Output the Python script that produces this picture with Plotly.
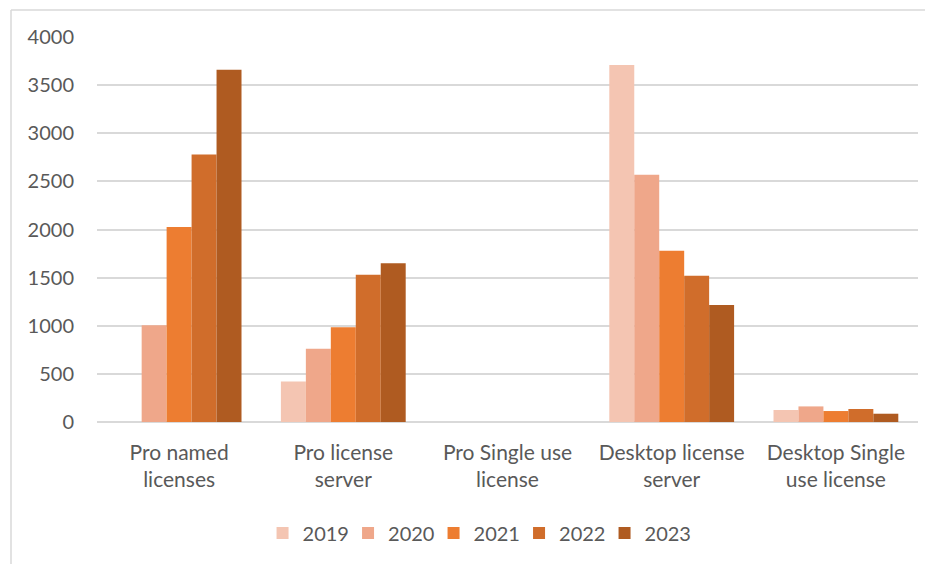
import plotly.graph_objects as go

categories = ["Pro named<br>licenses", "Pro license<br>server", "Pro Single use<br>license",
              "Desktop license<br>server", "Desktop Single<br>use license"]
years = ["2019", "2020", "2021", "2022", "2023"]
v2019 = [0, 420, 0, 3710, 125]
v2020 = [1005, 760, 0, 2570, 162]
v2021 = [2025, 985, 0, 1780, 114]
v2022 = [2780, 1530, 0, 1520, 135]
v2023 = [3660, 1650, 0, 1215, 86]
series = [v2019, v2020, v2021, v2022, v2023]
colors = ["#F4C5B2", "#EFA78A", "#ED7D31", "#D06D2B", "#AF5B21"]

# page has an 8px body margin; work in figure coordinates
OFF = 8
W, H = 933 - OFF, 564 - OFF
L, R, T, B = 97 - OFF, 918 - OFF, 37 - OFF, 422 - OFF

fig = go.Figure()
for y, vals, c in zip(years, series, colors):
    fig.add_trace(go.Bar(name=y, x=categories, y=vals, marker=dict(color=c, line=dict(width=0))))

font = "Lato, 'Open Sans', sans-serif"
fig.update_layout(
    width=W, height=H,
    margin=dict(l=L, r=W - R, t=T, b=H - B, pad=0),
    paper_bgcolor="white", plot_bgcolor="white",
    barmode="group", bargap=0.24, bargroupgap=0,
    font=dict(family=font, size=20, color="#595959"),
    xaxis=dict(showgrid=False, showline=False, ticks="", ticklabelstandoff=16,
               tickfont=dict(size=21, color="#595959")),
    yaxis=dict(range=[0, 4000], dtick=500, showgrid=True, gridcolor="#D9D9D9", gridwidth=1.5,
               zeroline=True, zerolinecolor="#D9D9D9", zerolinewidth=1.5,
               showline=False, ticks="", ticklabelstandoff=22, tickfont=dict(size=20, color="#595959")),
    legend=dict(orientation="h", x=0.4623, xanchor="center", y=(B - (533 - OFF)) / (B - T), yanchor="middle",
                font=dict(size=20, color="#595959"), itemwidth=30, entrywidth=40.5, traceorder="normal"),
    showlegend=True,
)

px = lambda x: (x - OFF - L) / (R - L)
py = lambda y: (B - (y - OFF)) / (B - T)
fig.add_shape(type="line", xref="paper", yref="paper", x0=px(11), x1=px(945), y0=py(10), y1=py(10),
              line=dict(color="#D9D9D9", width=1.5))
fig.add_shape(type="line", xref="paper", yref="paper", x0=px(11), x1=px(11), y0=py(10), y1=py(580),
              line=dict(color="#D9D9D9", width=1.5))

fig.write_html("out.html")
